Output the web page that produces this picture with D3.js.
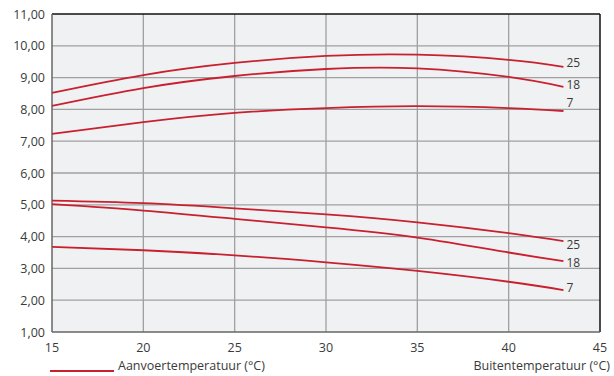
<!DOCTYPE html>
<html>
<head>
<meta charset="utf-8">
<script src="https://cdn.jsdelivr.net/npm/d3@7"></script>
<style>
  body { margin: 0; background: #fff; }
  text { font-family: "Open Sans", sans-serif; fill: #3a3a3a; }
</style>
</head>
<body>
<svg id="viz" width="614" height="376"></svg>
<script>
const xTicks = [15, 20, 25, 30, 35, 40, 45];
const yTicks = [1, 2, 3, 4, 5, 6, 7, 8, 9, 10, 11];
const outdoor = [15, 20, 25, 30, 35, 40, 43];
const seriesLabels = ['25', '18', '7', '25', '18', '7'];
const upper25 = [8.52, 9.08, 9.46, 9.68, 9.72, 9.56, 9.34];
const upper18 = [8.11, 8.67, 9.05, 9.27, 9.29, 9.02, 8.71];
const upper7 = [7.23, 7.60, 7.89, 8.04, 8.10, 8.04, 7.95];
const lower25 = [5.13, 5.05, 4.89, 4.70, 4.45, 4.11, 3.86];
const lower18 = [5.02, 4.82, 4.56, 4.29, 3.97, 3.50, 3.23];
const lower7 = [3.68, 3.57, 3.41, 3.19, 2.92, 2.58, 2.32];
const allSeries = [upper25, upper18, upper7, lower25, lower18, lower7];

const margin = { left: 52, right: 14, top: 14, bottom: 44 };
const width = 614 - margin.left - margin.right;
const height = 376 - margin.top - margin.bottom;

const svg = d3.select('#viz');
const g = svg.append('g').attr('transform', 'translate(' + margin.left + ',' + margin.top + ')');

const x = d3.scaleLinear().domain([15, 45]).range([0, width]);
const y = d3.scaleLinear().domain([1, 11]).range([height, 0]);

// plot background
g.append('rect').attr('width', width).attr('height', height).attr('fill', '#f0f1f3');

// grid
g.selectAll('.vgrid').data(xTicks.slice(1, -1)).join('line')
  .attr('x1', d => x(d)).attr('x2', d => x(d))
  .attr('y1', 0).attr('y2', height)
  .attr('stroke', '#a0a0a0').attr('stroke-width', 1.3);
g.selectAll('.hgrid').data(yTicks.slice(1, -1)).join('line')
  .attr('x1', 0).attr('x2', width)
  .attr('y1', d => y(d)).attr('y2', d => y(d))
  .attr('stroke', '#a0a0a0').attr('stroke-width', 1.3);

// frame: dark top/right, grey left/bottom
g.append('line').attr('x1', 0).attr('x2', width).attr('y1', 0).attr('y2', 0).attr('stroke', '#111').attr('stroke-width', 1.5);
g.append('line').attr('x1', width).attr('x2', width).attr('y1', 0).attr('y2', height).attr('stroke', '#111').attr('stroke-width', 1.5);
g.append('line').attr('x1', 0).attr('x2', 0).attr('y1', 0).attr('y2', height).attr('stroke', '#666').attr('stroke-width', 1.5);
g.append('line').attr('x1', 0).attr('x2', width).attr('y1', height).attr('y2', height).attr('stroke', '#666').attr('stroke-width', 1.5);

// tick labels
g.selectAll('.ylab').data(yTicks).join('text')
  .attr('x', -7).attr('y', d => y(d) + 4.5)
  .attr('text-anchor', 'end').attr('font-size', 12.5)
  .text(d => d3.format('.2f')(d).replace('.', ','));
g.selectAll('.xlab').data(xTicks).join('text')
  .attr('x', d => x(d)).attr('y', height + 20)
  .attr('text-anchor', 'middle').attr('font-size', 12.5)
  .text(d => d);

// curves
const line = d3.line()
  .x((d, i) => x(outdoor[i]))
  .y(d => y(d))
  .curve(d3.curveNatural);

g.selectAll('.curve').data(allSeries).join('path')
  .attr('d', d => line(d))
  .attr('fill', 'none')
  .attr('stroke', '#c8202f')
  .attr('stroke-width', 1.8);

// end labels, nudged off the line ends
const labelShift = [-4.5, -2.5, -8, 3.5, 2, -2.5];
g.selectAll('.endlab').data(allSeries).join('text')
  .attr('x', x(43) + 3)
  .attr('y', (d, i) => y(d[d.length - 1]) + labelShift[i] + 4.3)
  .attr('font-size', 12)
  .text((d, i) => seriesLabels[i]);

// legend
svg.append('line').attr('x1', 50).attr('x2', 114).attr('y1', 371).attr('y2', 371)
  .attr('stroke', '#c8202f').attr('stroke-width', 1.8);
svg.append('text').attr('x', 118).attr('y', 370).attr('font-size', 12.5).text('Aanvoertemperatuur (°C)');
svg.append('text').attr('x', 610).attr('y', 370).attr('text-anchor', 'end').attr('font-size', 12.5).text('Buitentemperatuur (°C)');
</script>
</body>
</html>
